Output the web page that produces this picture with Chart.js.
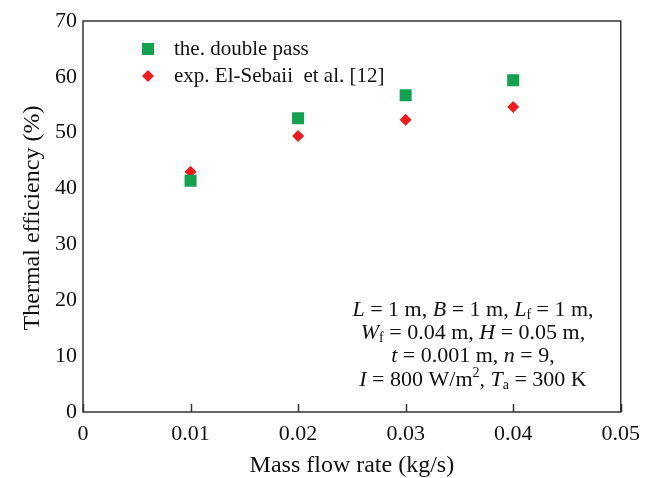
<!DOCTYPE html>
<html>
<head>
<meta charset="utf-8">
<script src="https://cdn.jsdelivr.net/npm/chart.js@4"></script>
<style>
  html, body { margin: 0; padding: 0; background: #fff; }
  #wrap { width: 649px; height: 478px; }
</style>
</head>
<body>
<div id="wrap"><canvas id="chart" width="649" height="478"></canvas></div>
<script>
// data
const flowRates = [0.01, 0.02, 0.03, 0.04];
const theoryDoublePass = [41.4, 52.6, 56.7, 59.4];
const expElSebaii = [43.0, 49.4, 52.3, 54.6];
const xTicks = [0, 0.01, 0.02, 0.03, 0.04, 0.05];
const yTicks = [0, 10, 20, 30, 40, 50, 60, 70];
const seriesNames = ["the. double pass", "exp. El-Sebaii  et al. [12]"];

const SERIF = "'Liberation Serif', 'DejaVu Serif', serif";
const GREEN = "#12a14f";
const RED = "#ee1c1c";

// parameter box text, [text, style] with style: r, i, sub, sup
const paramLines = [
  [["L", "i"], [" = 1 m, ", "r"], ["B", "i"], [" = 1 m, ", "r"], ["L", "i"], ["f", "sub"], [" = 1 m,", "r"]],
  [["W", "i"], ["f", "sub"], [" = 0.04 m, ", "r"], ["H", "i"], [" = 0.05 m,", "r"]],
  [["t", "i"], [" = 0.001 m, ", "r"], ["n", "i"], [" = 9,", "r"]],
  [["I", "i"], [" = 800 W/m", "r"], ["2", "sup"], [", ", "r"], ["T", "i"], ["a", "sub"], [" = 300 K", "r"]]
];

function segFont(style) {
  if (style === "i") return "italic 22px " + SERIF;
  if (style === "sub" || style === "sup") return "14px " + SERIF;
  return "22px " + SERIF;
}

const extras = {
  id: "extras",
  afterDraw(chart) {
    const ctx = chart.ctx;
    const a = chart.chartArea;
    const xs = chart.scales.x;
    ctx.save();
    // frame
    ctx.strokeStyle = "#333";
    ctx.lineWidth = 1.5;
    ctx.strokeRect(a.left, a.top, a.right - a.left, a.bottom - a.top);
    // inward ticks on bottom axis
    xTicks.forEach(v => {
      const px = Math.round(xs.getPixelForValue(v)) + 0.5;
      ctx.beginPath();
      ctx.moveTo(px, a.bottom);
      ctx.lineTo(px, a.bottom - 8);
      ctx.stroke();
    });

    // legend
    ctx.fillStyle = GREEN;
    ctx.fillRect(142, 43, 12, 12);
    ctx.fillStyle = RED;
    ctx.beginPath();
    ctx.moveTo(148, 70); ctx.lineTo(154, 76); ctx.lineTo(148, 82); ctx.lineTo(142, 76);
    ctx.closePath(); ctx.fill();
    ctx.fillStyle = "#111";
    ctx.font = "21px " + SERIF;
    ctx.textBaseline = "middle";
    ctx.textAlign = "left";
    ctx.fillText(seriesNames[0], 174, 49);
    ctx.fillText(seriesNames[1], 174, 76);

    // y title
    ctx.save();
    ctx.translate(33, 218);
    ctx.rotate(-Math.PI / 2);
    ctx.textAlign = "center";
    ctx.font = "24px " + SERIF;
    ctx.fillText("Thermal efficiency (%)", 0, 0);
    ctx.restore();

    // parameter block
    const cx = 473;
    paramLines.forEach((line, i) => {
      const y = 310 + i * 23.3;
      let w = 0;
      line.forEach(s => { ctx.font = segFont(s[1]); w += ctx.measureText(s[0]).width; });
      let x = cx - w / 2;
      line.forEach(s => {
        ctx.font = segFont(s[1]);
        let dy = 0;
        if (s[1] === "sub") dy = 5;
        if (s[1] === "sup") dy = -7;
        ctx.fillText(s[0], x, y + dy);
        x += ctx.measureText(s[0]).width;
      });
    });
    ctx.restore();
  }
};

new Chart(document.getElementById("chart"), {
  type: "scatter",
  data: {
    datasets: [
      {
        label: seriesNames[0],
        data: flowRates.map((x, i) => ({ x: x, y: theoryDoublePass[i] })),
        pointStyle: "rect",
        pointRadius: 8.5,
        backgroundColor: GREEN,
        borderColor: GREEN,
        borderWidth: 0
      },
      {
        label: seriesNames[1],
        data: flowRates.map((x, i) => ({ x: x, y: expElSebaii[i] })),
        pointStyle: "rectRot",
        pointRadius: 6,
        backgroundColor: RED,
        borderColor: RED,
        borderWidth: 0
      }
    ]
  },
  options: {
    responsive: false,
    animation: false,
    layout: { padding: { top: 21, right: 27, left: 0, bottom: 0 } },
    plugins: { legend: { display: false }, tooltip: { enabled: false } },
    scales: {
      x: {
        type: "linear",
        min: 0, max: 0.05,
        afterBuildTicks: s => { s.ticks = xTicks.map(v => ({ value: v })); },
        afterFit: s => { s.height = 66; },
        grid: { display: false, drawTicks: false },
        border: { display: false },
        ticks: {
          color: "#111",
          font: { family: SERIF, size: 22 },
          padding: 9,
          maxRotation: 0,
          callback: v => v === 0 ? "0" : v.toFixed(2)
        },
        title: {
          display: true,
          text: "Mass flow rate (kg/s)",
          color: "#111",
          font: { family: SERIF, size: 24, lineHeight: 1 },
          padding: { top: 4, bottom: 0 }
        }
      },
      y: {
        min: 0, max: 70,
        afterBuildTicks: s => { s.ticks = yTicks.map(v => ({ value: v })); },
        afterFit: s => { s.width = 83; },
        grid: { display: false, drawTicks: false },
        border: { display: false },
        ticks: {
          color: "#111",
          font: { family: SERIF, size: 22 },
          padding: 6
        }
      }
    }
  },
  plugins: [extras]
});
</script>
</body>
</html>
